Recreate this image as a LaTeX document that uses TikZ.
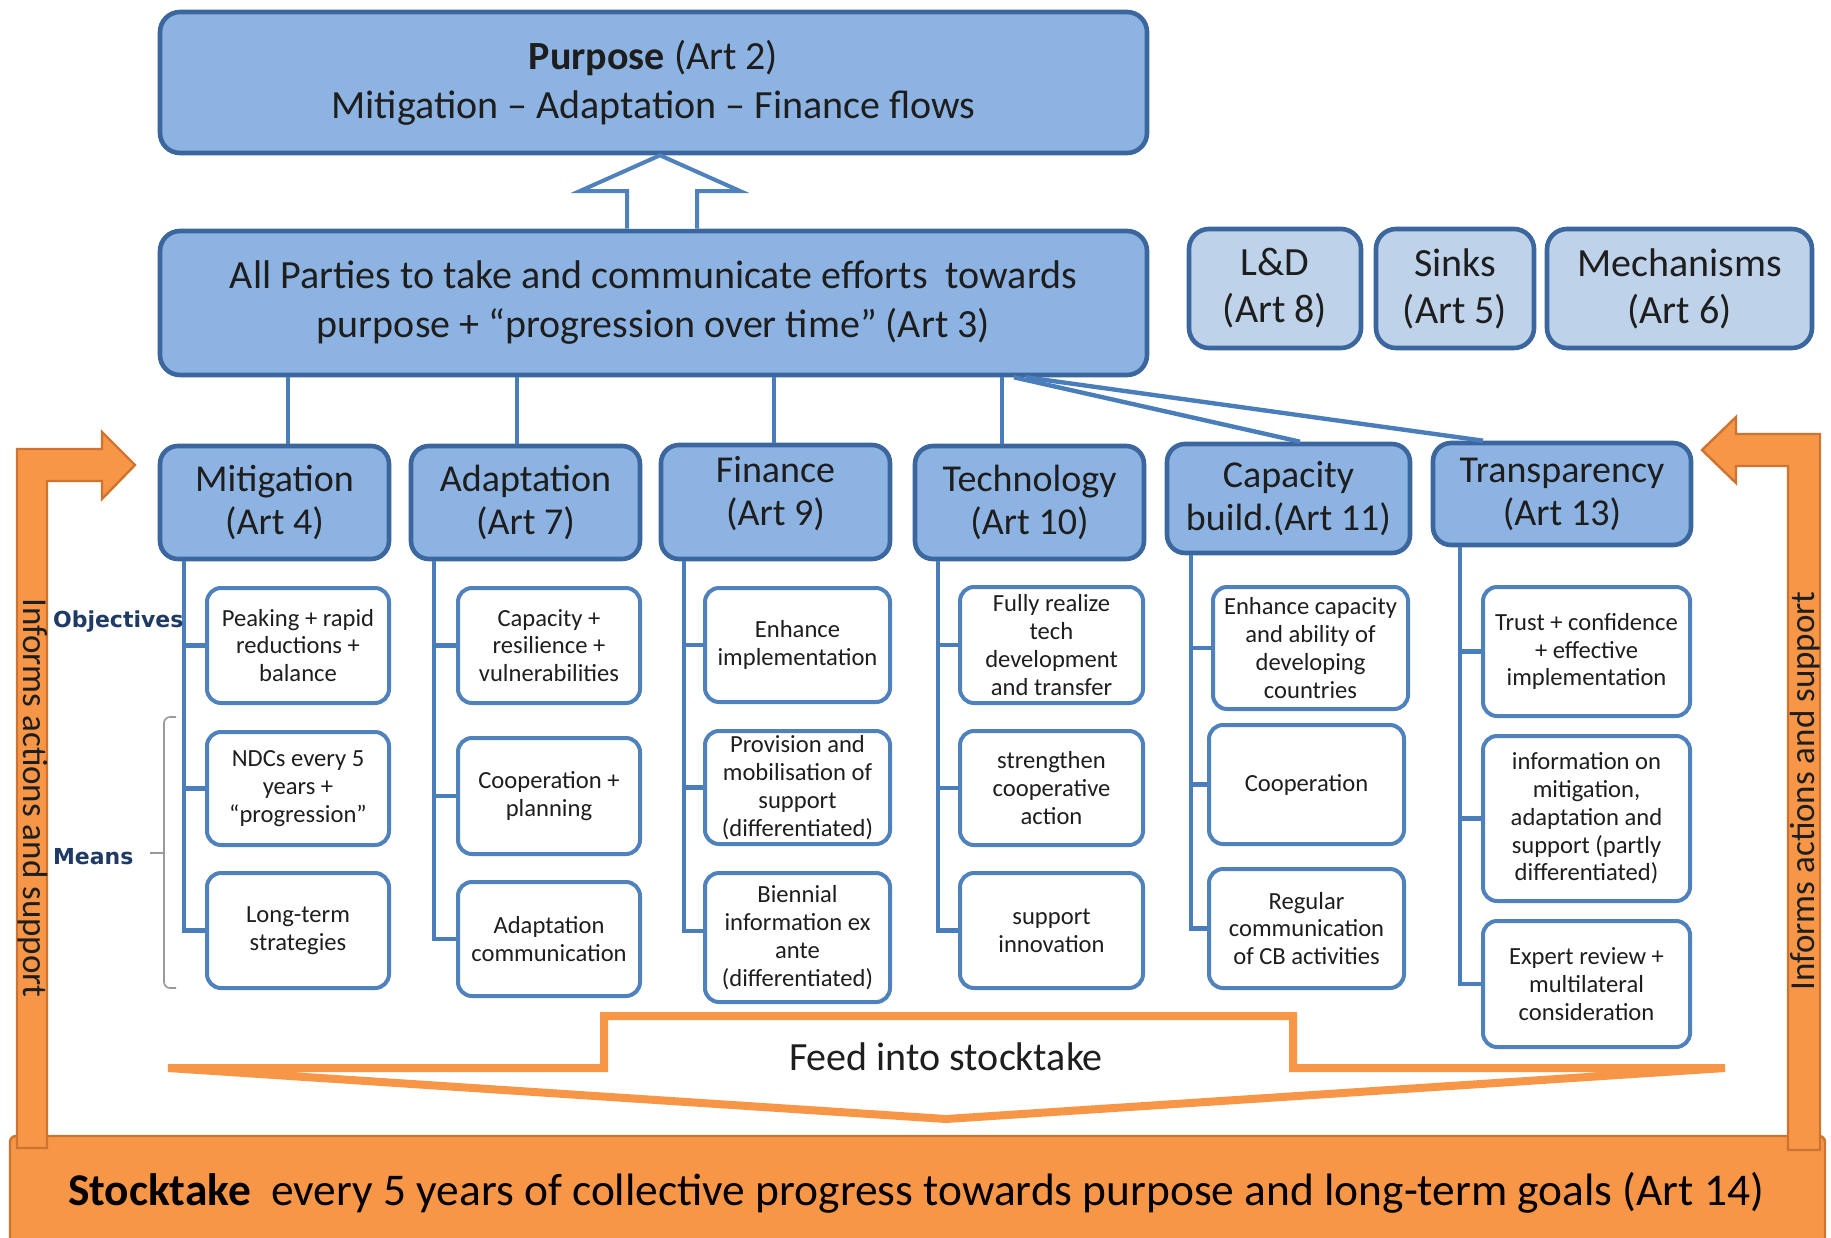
\documentclass[tikz,border=0pt]{standalone}
\usepackage{fontspec}
\setmainfont{Carlito}
\newfontfamily\labelfont{DejaVu Sans}
\definecolor{boxfill}{HTML}{8DB3E2}
\definecolor{boxdraw}{HTML}{3B679E}
\definecolor{lightfill}{HTML}{BED2EA}
\definecolor{subdraw}{HTML}{4F81BD}
\definecolor{connc}{HTML}{4A7EBB}
\definecolor{orangefill}{HTML}{F79646}
\definecolor{orangedraw}{HTML}{CF7430}
\definecolor{navy}{HTML}{1F3A64}
\definecolor{txt}{HTML}{1E1E1E}
\begin{document}
\begin{tikzpicture}[x=0.5pt,y=-0.5pt,
  rect/.style n args={4}{at={({(#1+#3)/2},{(#2+#4)/2})}, minimum width={(#3-#1)*0.5pt}, minimum height={(#4-#2)*0.5pt}},
  bigbox/.style={draw=boxdraw, fill=boxfill, line width=2.3pt, rounded corners=10pt, inner sep=0pt, align=center, text=txt, font=\fontsize{20}{24.5}\selectfont},
  lightbox/.style={draw=boxdraw, fill=lightfill, line width=2.3pt, rounded corners=10pt, inner sep=0pt, align=center, text=txt, font=\fontsize{20}{23.5}\selectfont},
  artbox/.style={draw=boxdraw, fill=boxfill, line width=2.3pt, rounded corners=9pt, inner sep=0pt, align=center, text=txt, font=\fontsize{19}{21.5}\selectfont},
  arttext/.style={align=center, text=txt, font=\fontsize{19}{21.5}\selectfont},
  subbox/.style={draw=subdraw, fill=white, line width=2pt, rounded corners=7pt, inner sep=0pt, align=center, text=txt, font=\fontsize{12.3}{13.9}\selectfont},
  conn/.style={draw=connc, line width=2.2pt},
  hollowarrow/.style={draw=subdraw, fill=white, line width=2pt, line join=miter},
  orangearrow/.style={draw=orangedraw, fill=orangefill, line width=1.2pt, line join=miter},
  feedarrow/.style={draw=orangefill, fill=white, line width=4pt, line join=miter},
  stockbox/.style={draw=orangedraw, fill=orangefill, line width=1.2pt, rounded corners=3pt, inner sep=0pt},
  sidelabel/.style={text=txt, font=\fontsize{17.5}{20}\selectfont},
  rowlabel/.style={text=navy, anchor=west, font=\labelfont\bfseries\fontsize{11}{13}\selectfont},
  bracec/.style={draw=gray!80, line width=0.8pt, rounded corners=3pt}
]
\fill[white] (0,0) rectangle (1831,1237);
\clip (0,0) rectangle (1831,1237);
\useasboundingbox (0,0) rectangle (1831,1237);

% top boxes
\node[bigbox, rect={160}{12}{1147}{153}] (purpose) {\textbf{Purpose} (Art 2)\\Mitigation – Adaptation – Finance flows};
\node[bigbox, rect={160}{231}{1147}{375}] (parties) {All Parties to take and communicate efforts\ \ towards\\purpose + “progression over time” (Art 3)};
\node[lightbox, rect={1189}{229}{1361}{348}] (ld) {L\&D\\(Art 8)};
\node[lightbox, rect={1376}{229}{1534}{348}] (sinks) {Sinks\\(Art 5)};
\node[lightbox, rect={1547}{229}{1812}{348}] (mech) {Mechanisms\\(Art 6)};

% hollow arrow
\draw[hollowarrow] (parties.north -| 627,0) -- (627,191) -- (580,191) -- (purpose.south -| 660,0) -- (740,191) -- (697,191) -- (parties.north -| 697,0);

% article boxes
\node[artbox, rect={160}{446}{389}{559}] (mit) {Mitigation\\(Art 4)};
\node[artbox, rect={411}{446}{640}{559}] (ada) {Adaptation\\(Art 7)};
\node[artbox, rect={661}{445}{890}{559}] (fin) {};
\node[arttext] (fintxt) at (775.5,494) {Finance\\(Art 9)};
\node[artbox, rect={915}{446}{1144}{559}] (tec) {Technology\\(Art 10)};
\node[artbox, rect={1167}{444}{1410}{553}] (cap) {Capacity\\build.(Art 11)};
\node[artbox, rect={1433}{443}{1691}{545}] (tra) {Transparency\\(Art 13)};

% connectors from parties
\draw[conn] (parties.south -| 288,0) -- (mit.north -| 288,0);
\draw[conn] (parties.south -| 517,0) -- (ada.north -| 517,0);
\draw[conn] (parties.south -| 774,0) -- (fin.north -| 774,0);
\draw[conn] (parties.south -| 1002,0) -- (tec.north -| 1002,0);
\draw[conn] (parties.south -| 1014,0) -- (cap.north -| 1300,0);
\draw[conn] (parties.south -| 1026,0) -- (tra.north -| 1483,0);

% Mitigation column
\node[subbox, rect={207}{588}{389}{703}] (m1) {Peaking + rapid\\reductions +\\balance};
\node[subbox, rect={207}{732}{389}{845}] (m2) {NDCs every 5\\years +\\“progression”};
\node[subbox, rect={207}{873}{389}{988}] (m3) {Long-term\\strategies};
\draw[conn] (mit.south -| 184,0) |- (m3.west);
\draw[conn] (184,0 |- m1.west) -- (m1.west);
\draw[conn] (184,0 |- m2.west) -- (m2.west);

% Adaptation column
\node[subbox, rect={458}{588}{640}{703}] (a1) {Capacity +\\resilience +\\vulnerabilities};
\node[subbox, rect={458}{738}{640}{854}] (a2) {Cooperation +\\planning};
\node[subbox, rect={458}{882}{640}{996}] (a3) {Adaptation\\communication};
\draw[conn] (ada.south -| 434,0) |- (a3.west);
\draw[conn] (434,0 |- a1.west) -- (a1.west);
\draw[conn] (434,0 |- a2.west) -- (a2.west);

% Finance column
\node[subbox, rect={705}{588}{890}{702}] (f1) {Enhance\\implementation};
\node[subbox, rect={705}{731}{890}{844}] (f2) {Provision and\\mobilisation of\\support\\(differentiated)};
\node[subbox, rect={705}{873}{890}{1002}] (f3) {Biennial\\information ex\\ante\\(differentiated)};
\draw[conn] (fin.south -| 684,0) |- (f3.west |- 0,931);
\draw[conn] (684,0 |- f1.west) -- (f1.west);
\draw[conn] (684,0 |- f2.west) -- (f2.west);

% Technology column
\node[subbox, rect={960}{587}{1143}{703}] (t1) {Fully realize\\tech\\development\\and transfer};
\node[subbox, rect={960}{731}{1143}{845}] (t2) {strengthen\\cooperative\\action};
\node[subbox, rect={960}{873}{1143}{988}] (t3) {support\\innovation};
\draw[conn] (tec.south -| 938,0) |- (t3.west);
\draw[conn] (938,0 |- t1.west) -- (t1.west);
\draw[conn] (938,0 |- t2.west) -- (t2.west);

% Capacity column
\node[subbox, rect={1213}{587}{1408}{709}] (c1) {Enhance capacity\\and ability of\\developing\\countries};
\node[subbox, rect={1209}{725}{1404}{844}] (c2) {Cooperation};
\node[subbox, rect={1209}{869}{1404}{988}] (c3) {Regular\\communication\\of CB activities};
\draw[conn] (cap.south -| 1191,0) |- (c3.west);
\draw[conn] (1191,0 |- c1.west) -- (c1.west);
\draw[conn] (1191,0 |- c2.west) -- (c2.west);

% Transparency column
\node[subbox, rect={1483}{587}{1690}{716}] (r1) {Trust + confidence\\+ effective\\implementation};
\node[subbox, rect={1483}{736}{1690}{901}] (r2) {information on\\mitigation,\\adaptation and\\support (partly\\differentiated)};
\node[subbox, rect={1483}{921}{1690}{1047}] (r3) {Expert review +\\multilateral\\consideration};
\draw[conn] (tra.south -| 1460,0) |- (r3.west);
\draw[conn] (1460,0 |- r1.west) -- (r1.west);
\draw[conn] (1460,0 |- r2.west) -- (r2.west);

% row labels and brace
\node[rowlabel] (obj) at (46,622) {Objectives};
\node[rowlabel] (means) at (46,857) {Means};
\draw[bracec] (176,717) -| (164,853);
\draw[bracec] (164,853) |- (176,988);
\draw[draw=gray!80, line width=0.8pt] (164,853) -- (150,853);

% stocktake box
\node[stockbox, rect={10}{1136}{1825}{1260}] (stock) {};
\node[text=black, font=\fontsize{22.7}{26}\selectfont] (stocktxt) at (916,1193) {\textbf{Stocktake}\ \ every 5 years of collective progress towards purpose and long-term goals (Art 14)};

% orange bent arrows
\draw[orangearrow] (17,1148) -- (17,449) -- (102,449) -- (102,432) -- (135,465) -- (102,499) -- (102,481) -- (47,481) -- (47,1148) -- cycle;
\draw[orangearrow] (1820,1150) -- (1820,434) -- (1736,434) -- (1736,417) -- (1702,450) -- (1736,483) -- (1736,466) -- (1788,466) -- (1788,1150) -- cycle;
\node[sidelabel, rotate=-90] (leftlbl) at (33,798) {Informs actions and support};
\node[sidelabel, rotate=90] (rightlbl) at (1805,791) {Informs actions and support};

% feed into stocktake arrow
\draw[feedarrow] (604,1016) -- (1293,1016) -- (1293,1068) -- (1725,1068) -- (946,1119) -- (168,1068) -- (604,1068) -- cycle;
\node[text=txt, font=\fontsize{20}{24}\selectfont] (feedtxt) at (946,1057) {Feed into stocktake};
\end{tikzpicture}
\end{document}
